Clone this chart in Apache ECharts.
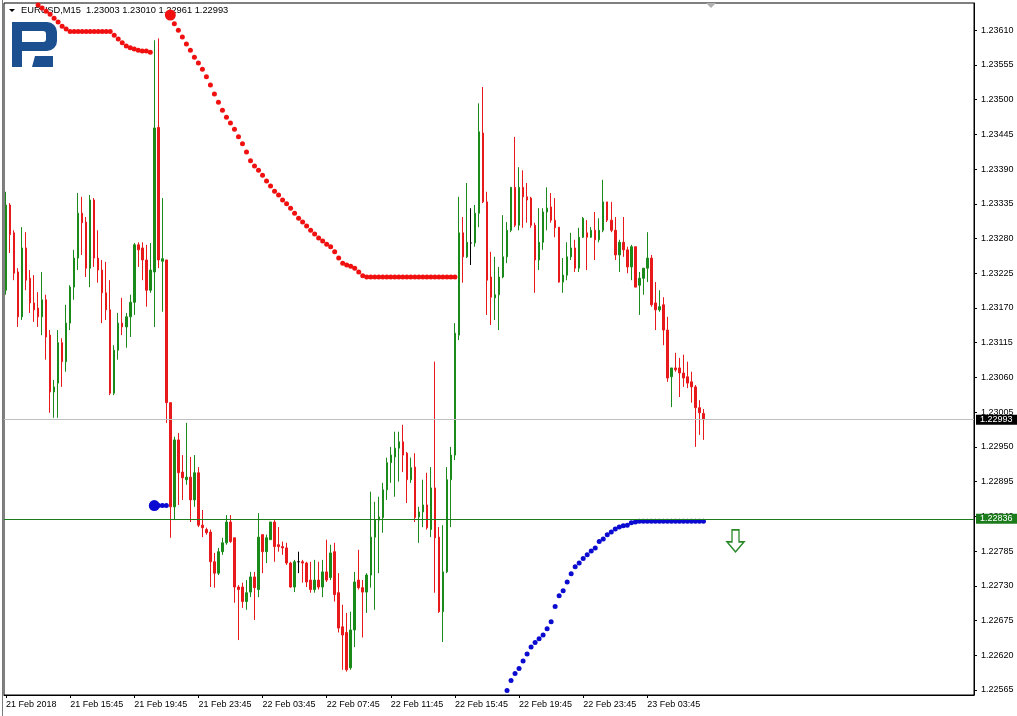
<!DOCTYPE html>
<html><head><meta charset="utf-8">
<script src="https://cdn.jsdelivr.net/npm/echarts@6/dist/echarts.min.js"></script>
<style>html,body{margin:0;padding:0;background:#fff}#c{width:1017px;height:716px}</style>
</head><body><div id="c"></div>
<script>
// ---- data ----
const totalSlots = 242;          // visible bar slots (incl. empty right margin)
const startUTC = Date.UTC(2018, 1, 21, 11, 45);
const tickLabels = ['21 Feb 2018','21 Feb 15:45','21 Feb 19:45','21 Feb 23:45','22 Feb 03:45','22 Feb 07:45','22 Feb 11:45','22 Feb 15:45','22 Feb 19:45','22 Feb 23:45','23 Feb 03:45'];
const priceTicks = [1.22565,1.22620,1.22675,1.22730,1.22785,1.22840,1.22895,1.22950,1.23005,1.23060,1.23115,1.23170,1.23225,1.23280,1.23335,1.23390,1.23445,1.23500,1.23555,1.23610];
const titleText = 'EURUSD,M15  1.23003 1.23010 1.22961 1.22993';
const bidPrice = 1.22993;
const levelPrice = 1.22836;

const opens = [1.23198,1.23333,1.23289,1.23227,1.23156,1.23265,1.23217,1.23178,1.23170,1.23156,
1.23183,1.23127,1.23037,1.23051,1.23115,1.23085,1.23146,1.23203,1.23249,1.23320,
1.23306,1.23233,1.23341,1.23249,1.23230,1.23194,1.23167,1.23035,1.23103,1.23146,
1.23140,1.23156,1.23179,1.23270,1.23265,1.23246,1.23198,1.23227,1.23456,1.23244,
1.23246,1.23020,1.22855,1.22961,1.22910,1.22898,1.22902,1.22866,1.22909,1.22826,
1.22819,1.22815,1.22768,1.22750,1.22784,1.22798,1.22831,1.22806,1.22728,1.22728,
1.22705,1.22720,1.22744,1.22724,1.22811,1.22784,1.22803,1.22831,1.22795,1.22792,
1.22790,1.22766,1.22728,1.22768,1.22768,1.22766,1.22739,1.22724,1.22739,1.22728,
1.22752,1.22743,1.22784,1.22719,1.22665,1.22656,1.22600,1.22660,1.22739,1.22727,
1.22720,1.22747,1.22807,1.22834,1.22838,1.22882,1.22925,1.22934,1.22948,1.22958,
1.22940,1.22898,1.22918,1.22839,1.22847,1.22858,1.22819,1.22885,1.22807,1.22689,
1.22752,1.22898,1.22937,1.23127,1.23289,1.23251,1.23273,1.23273,1.23320,1.23447,
1.23338,1.23219,1.23186,1.23191,1.23219,1.23251,1.23293,1.23361,1.23301,1.23361,
1.23346,1.23344,1.23301,1.23246,1.23274,1.23322,1.23330,1.23309,1.23298,1.23211,
1.23222,1.23251,1.23265,1.23233,1.23282,1.23289,1.23282,1.23293,1.23278,1.23293,
1.23338,1.23309,1.23293,1.23254,1.23274,1.23262,1.23235,1.23267,1.23206,1.23217,
1.23233,1.23249,1.23178,1.23167,1.23175,1.23135,1.23061,1.23075,1.23075,1.23067,
1.23061,1.23053,1.23045,1.23012,1.23003];
const closes = [1.23333,1.23286,1.23225,1.23156,1.23265,1.23214,1.23178,1.23167,1.23156,1.23183,
1.23124,1.23037,1.23045,1.23115,1.23085,1.23146,1.23203,1.23249,1.23320,1.23305,
1.23233,1.23341,1.23249,1.23230,1.23194,1.23167,1.23035,1.23103,1.23146,1.23140,
1.23156,1.23179,1.23270,1.23262,1.23246,1.23198,1.23230,1.23455,1.23246,1.23248,
1.23020,1.22855,1.22961,1.22909,1.22901,1.22902,1.22866,1.22909,1.22826,1.22822,
1.22814,1.22768,1.22750,1.22784,1.22798,1.22831,1.22800,1.22728,1.22724,1.22705,
1.22719,1.22744,1.22727,1.22807,1.22784,1.22806,1.22831,1.22792,1.22792,1.22790,
1.22766,1.22728,1.22768,1.22768,1.22766,1.22736,1.22724,1.22739,1.22728,1.22752,
1.22739,1.22782,1.22716,1.22663,1.22652,1.22597,1.22660,1.22736,1.22727,1.22720,
1.22747,1.22807,1.22834,1.22839,1.22882,1.22925,1.22937,1.22948,1.22958,1.22937,
1.22898,1.22917,1.22838,1.22847,1.22858,1.22822,1.22885,1.22806,1.22689,1.22752,
1.22898,1.22937,1.23130,1.23289,1.23251,1.23274,1.23273,1.23320,1.23449,1.23338,
1.23214,1.23187,1.23191,1.23219,1.23251,1.23293,1.23361,1.23301,1.23361,1.23346,
1.23341,1.23301,1.23246,1.23274,1.23322,1.23328,1.23309,1.23297,1.23211,1.23222,
1.23251,1.23265,1.23233,1.23282,1.23312,1.23282,1.23293,1.23278,1.23293,1.23338,
1.23309,1.23293,1.23254,1.23274,1.23262,1.23235,1.23267,1.23203,1.23217,1.23233,
1.23249,1.23175,1.23167,1.23172,1.23135,1.23059,1.23075,1.23072,1.23067,1.23059,
1.23051,1.23045,1.23012,1.23004,1.22993];
const lows = [1.23191,1.23257,1.23214,1.23140,1.23151,1.23198,1.23162,1.23148,1.23140,1.23127,
1.23088,1.23004,1.22996,1.22996,1.23045,1.23069,1.23135,1.23183,1.23230,1.23254,
1.23219,1.23203,1.23235,1.23210,1.23146,1.23151,1.23032,1.23032,1.23088,1.23127,
1.23107,1.23124,1.23159,1.23235,1.23214,1.23172,1.23194,1.23140,1.23233,1.23164,
1.22988,1.22806,1.22834,1.22858,1.22866,1.22890,1.22831,1.22855,1.22823,1.22807,
1.22811,1.22728,1.22727,1.22747,1.22779,1.22795,1.22798,1.22703,1.22644,1.22695,
1.22692,1.22712,1.22676,1.22712,1.22750,1.22766,1.22803,1.22768,1.22784,1.22779,
1.22763,1.22727,1.22720,1.22750,1.22735,1.22728,1.22719,1.22719,1.22724,1.22712,
1.22736,1.22739,1.22705,1.22656,1.22597,1.22594,1.22597,1.22633,1.22724,1.22648,
1.22687,1.22727,1.22692,1.22750,1.22814,1.22866,1.22893,1.22871,1.22895,1.22910,
1.22861,1.22893,1.22831,1.22798,1.22823,1.22819,1.22807,1.22719,1.22687,1.22641,
1.22750,1.22823,1.22929,1.23119,1.23210,1.23249,1.23238,1.23267,1.23298,1.23336,
1.23159,1.23143,1.23151,1.23135,1.23217,1.23241,1.23290,1.23298,1.23293,1.23297,
1.23305,1.23297,1.23194,1.23230,1.23262,1.23293,1.23305,1.23282,1.23210,1.23194,
1.23214,1.23246,1.23227,1.23227,1.23281,1.23230,1.23281,1.23246,1.23274,1.23290,
1.23306,1.23290,1.23246,1.23227,1.23251,1.23225,1.23214,1.23203,1.23159,1.23191,
1.23211,1.23172,1.23135,1.23164,1.23111,1.23053,1.23013,1.23069,1.23029,1.23045,
1.23043,1.23020,1.22950,1.22969,1.22961];
const highs = [1.23354,1.23336,1.23293,1.23233,1.23298,1.23290,1.23230,1.23222,1.23195,1.23227,
1.23191,1.23135,1.23056,1.23135,1.23122,1.23175,1.23206,1.23262,1.23352,1.23346,
1.23314,1.23349,1.23344,1.23293,1.23246,1.23243,1.23214,1.23111,1.23162,1.23186,
1.23162,1.23191,1.23273,1.23274,1.23274,1.23270,1.23273,1.23594,1.23597,1.23344,
1.23246,1.23020,1.22966,1.22972,1.22937,1.22988,1.22934,1.22937,1.22918,1.22850,
1.22822,1.22819,1.22782,1.22790,1.22806,1.22842,1.22842,1.22806,1.22731,1.22735,
1.22739,1.22752,1.22752,1.22845,1.22811,1.22811,1.22831,1.22834,1.22823,1.22800,
1.22798,1.22768,1.22771,1.22784,1.22771,1.22768,1.22768,1.22771,1.22768,1.22771,
1.22803,1.22795,1.22798,1.22750,1.22700,1.22687,1.22689,1.22752,1.22787,1.22739,
1.22750,1.22879,1.22863,1.22871,1.22893,1.22933,1.22950,1.22974,1.22974,1.22985,
1.22942,1.22933,1.22940,1.22855,1.22898,1.22909,1.22918,1.23085,1.22823,1.22826,
1.22918,1.22950,1.23146,1.23346,1.23314,1.23368,1.23328,1.23333,1.23494,1.23520,
1.23354,1.23259,1.23251,1.23235,1.23317,1.23306,1.23361,1.23441,1.23393,1.23388,
1.23368,1.23346,1.23305,1.23328,1.23328,1.23361,1.23352,1.23344,1.23298,1.23249,
1.23274,1.23289,1.23278,1.23297,1.23314,1.23309,1.23298,1.23322,1.23312,1.23373,
1.23338,1.23338,1.23314,1.23278,1.23314,1.23267,1.23270,1.23267,1.23227,1.23233,
1.23290,1.23254,1.23211,1.23198,1.23187,1.23156,1.23075,1.23099,1.23091,1.23096,
1.23085,1.23069,1.23048,1.23024,1.23010];

// trailing stop dots (null = no dot)
const redDots = [null,null,null,null,null,null,null,null,1.23650,1.23645,
1.23640,1.23635,1.23629,1.23623,1.23616,1.23612,1.23608,1.23608,1.23608,1.23608,
1.23608,1.23608,1.23608,1.23608,1.23608,1.23608,1.23608,1.23602,1.23596,1.23590,
1.23585,1.23582,1.23580,1.23578,1.23577,1.23577,1.23575,null,null,null,
null,1.23634,1.23620,1.23610,1.23599,1.23588,1.23578,1.23567,1.23558,1.23548,
1.23536,1.23523,1.23509,1.23496,1.23483,1.23472,1.23463,1.23453,1.23441,1.23430,
1.23417,1.23403,1.23395,1.23388,1.23380,1.23371,1.23363,1.23355,1.23349,1.23341,
1.23335,1.23328,1.23320,1.23312,1.23306,1.23300,1.23293,1.23287,1.23281,1.23276,
1.23271,1.23267,1.23259,1.23249,1.23241,1.23238,1.23236,1.23233,1.23227,1.23221,
1.23219,1.23219,1.23219,1.23219,1.23219,1.23219,1.23219,1.23219,1.23219,1.23219,
1.23219,1.23219,1.23219,1.23219,1.23219,1.23219,1.23219,1.23219,1.23219,1.23219,
1.23219,1.23219,1.23219];
const blueDots = [null,null,null,null,null,null,null,null,null,null,
null,null,null,null,null,null,null,null,null,null,
null,null,null,null,null,null,null,null,null,null,
null,null,null,null,null,null,null,1.22857,1.22857,1.22857,
1.22857,null,null,null,null,null,null,null,null,null,
null,null,null,null,null,null,null,null,null,null,
null,null,null,null,null,null,null,null,null,null,
null,null,null,null,null,null,null,null,null,null,
null,null,null,null,null,null,null,null,null,null,
null,null,null,null,null,null,null,null,null,null,
null,null,null,null,null,null,null,null,null,null,
null,null,null,null,null,null,null,null,null,null,
null,null,null,null,null,1.22564,1.22580,1.22591,1.22599,1.22611,
1.22622,1.22633,1.22640,1.22646,1.22652,1.22662,1.22673,1.22697,1.22714,1.22722,
1.22736,1.22749,1.22760,1.22766,1.22773,1.22779,1.22785,1.22790,1.22800,1.22804,
1.22811,1.22815,1.22820,1.22823,1.22825,1.22826,1.22830,1.22831,1.22832,1.22832,
1.22832,1.22832,1.22832,1.22832,1.22832,1.22832,1.22832,1.22832,1.22832,1.22832,
1.22832,1.22832,1.22832,1.22832,1.22832];
const redStart = [[41, 1.23634]];
const blueStart = [[37, 1.22857]];
const arrowSignal = [[182, 1.22801]];

// ---- build ----
function pad(n){return (n<10?'0':'')+n;}
const months = ['Jan','Feb','Mar','Apr','May','Jun','Jul','Aug','Sep','Oct','Nov','Dec'];
const categories = [];
for (let i = 0; i < totalSlots; i++) {
  const d = new Date(startUTC + i * 15 * 60000);
  categories.push(d.getUTCDate() + ' ' + months[d.getUTCMonth()] + ' ' + pad(d.getUTCHours()) + ':' + pad(d.getUTCMinutes()));
}
const ohlc = opens.map((o, i) => [o, closes[i], lows[i], highs[i]]);
const toSeries = arr => arr.map(v => v == null ? '-' : v);
const isTick = i => i % 16 === 0 && (i / 16) < tickLabels.length;

const GREEN = '#1a8a1a', RED = '#e8191b', BLUE = '#0a0ad0', LVL = '#1c7c1c';
const FONT = 'Liberation Sans, Arial, sans-serif';

const chart = echarts.init(document.getElementById('c'), null, {renderer: 'canvas'});
chart.setOption({
  animation: false,
  backgroundColor: '#ffffff',
  grid: {left: 4, right: 43, top: 3, bottom: 21, show: true, borderColor: '#000', borderWidth: 1, containLabel: false},
  xAxis: {
    type: 'category', data: categories, boundaryGap: true,
    axisLine: {show: true, lineStyle: {color: '#000', width: 1}},
    axisTick: {show: true, alignWithLabel: true, interval: isTick, length: 3, lineStyle: {color: '#000'}},
    axisLabel: {interval: isTick, formatter: (v, i) => tickLabels[i / 16] || '', align: 'left',
      fontSize: 9, fontFamily: FONT, color: '#000', margin: 5},
    splitLine: {show: false}
  },
  yAxis: {
    type: 'value', position: 'right', min: 1.22557, max: 1.23653, scale: true,
    axisLine: {show: true, lineStyle: {color: '#000', width: 1}},
    axisTick: {show: true, length: 3, customValues: priceTicks, lineStyle: {color: '#000'}},
    axisLabel: {customValues: priceTicks, formatter: v => v.toFixed(5), fontSize: 9,
      fontFamily: FONT, color: '#000', margin: 7},
    splitLine: {show: false}
  },
  graphic: [
    // window frame
    {type: 'line', shape: {x1: 2.5, y1: 0, x2: 2.5, y2: 716}, style: {stroke: '#7a7a7a', lineWidth: 1}, silent: true},
    // title
    {type: 'polygon', shape: {points: [[9, 9], [15, 9], [12, 12]]}, style: {fill: '#000'}, silent: true},
    {type: 'text', left: 21, top: 6, style: {text: titleText, fontSize: 9.3, fontFamily: FONT, fill: '#000'}, silent: true, z: 0},
    // logo
    {type: 'group', silent: true, children: [
      {type: 'rect', shape: {x: 12, y: 22, width: 10, height: 45}, style: {fill: '#1b4f8f'}},
      {type: 'rect', shape: {x: 12, y: 22, width: 45, height: 29, r: [0, 10, 10, 0]}, style: {fill: '#1b4f8f'}},
      {type: 'rect', shape: {x: 22, y: 31, width: 24, height: 11, r: [0, 3, 3, 0]}, style: {fill: '#ffffff'}},
      {type: 'polygon', shape: {points: [[35, 56], [53, 56], [53, 67], [32, 67]]}, style: {fill: '#1b4f8f'}}
    ]},
    // chart-shift marker
    {type: 'polygon', shape: {points: [[706, 3], [716, 3], [711, 8]]}, style: {fill: '#b0b0b0'}, silent: true}
  ],
  series: [
    {
      type: 'candlestick', data: ohlc, barWidth: 2, clip: true, z: 2,
      itemStyle: {color: GREEN, color0: RED, borderColor: GREEN, borderColor0: RED, borderWidth: 1, borderColorDoji: '#000'},
      markLine: {
        silent: true, symbol: ['none', 'none'], animation: false, precision: 5,
        data: [
          {yAxis: bidPrice, lineStyle: {color: '#c0c0c0', width: 1, type: 'solid'},
           label: {show: true, position: 'end', distance: 2, formatter: p => Number(p.value).toFixed(5), color: '#fff', backgroundColor: '#000', padding: [1, 6, 0, 4], fontSize: 9, fontFamily: FONT}},
          {yAxis: levelPrice, lineStyle: {color: LVL, width: 1, type: 'solid'},
           label: {show: true, position: 'end', distance: 2, formatter: p => Number(p.value).toFixed(5), color: '#fff', backgroundColor: LVL, padding: [1, 6, 0, 4], fontSize: 9, fontFamily: FONT}}
        ]
      }
    },
    {type: 'scatter', data: toSeries(redDots), symbolSize: 5, itemStyle: {color: '#f01010', opacity: 1}, z: 4, clip: true},
    {type: 'scatter', data: toSeries(blueDots), symbolSize: 5, itemStyle: {color: BLUE, opacity: 1}, z: 4, clip: true},
    {type: 'scatter', data: redStart, symbolSize: 11, itemStyle: {color: '#f01010', opacity: 1}, z: 5, clip: true},
    {type: 'scatter', data: blueStart, symbolSize: 11, itemStyle: {color: BLUE, opacity: 1}, z: 5, clip: true},
    {type: 'scatter', data: arrowSignal, symbol: 'path://M5,0 L12,0 L12,12 L17,12 L8.5,22 L0,12 L5,12 Z', symbolSize: [17, 22],
      itemStyle: {color: '#ffffff', borderColor: '#2a8a2a', borderWidth: 1.5, opacity: 1}, z: 5}
  ]
});
</script></body></html>
